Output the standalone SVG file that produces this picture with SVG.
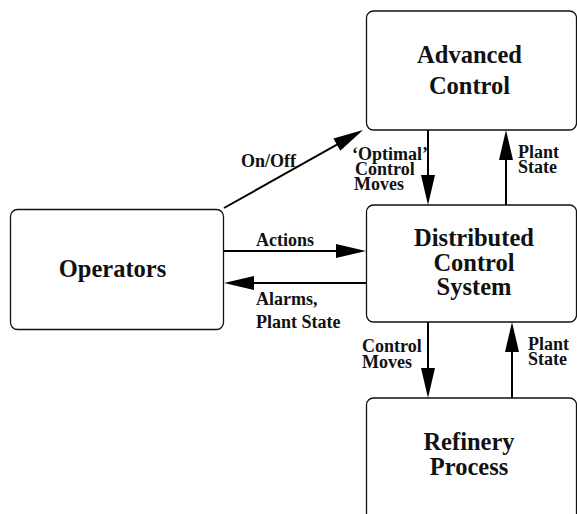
<svg xmlns="http://www.w3.org/2000/svg" width="577" height="514" viewBox="0 0 577 514">
<style>
.box{fill:#fff;stroke:#111;stroke-width:1.3}
.big{font-family:"Liberation Serif","Times New Roman",serif;font-weight:bold;font-size:24.5px;fill:#111;text-anchor:middle}
.sm{font-family:"Liberation Serif","Times New Roman",serif;font-weight:bold;font-size:18px;fill:#111}
.ln{stroke:#000;stroke-width:2;fill:none;marker-end:url(#ah)}
</style>
<defs>
<marker id="ah" markerUnits="userSpaceOnUse" markerWidth="30" markerHeight="14" refX="20" refY="7" orient="auto" overflow="visible">
<path d="M0,0 L30,7 L0,14 z" fill="#000"/>
</marker>
</defs>
<rect width="577" height="514" fill="#fff"/>
<g id="operators">
<rect class="box" x="10.5" y="209.5" width="213" height="120" rx="7"/>
<text class="big" x="112.5" y="277">Operators</text>
</g>
<g id="advanced-control">
<rect class="box" x="366.5" y="11" width="210" height="119" rx="7"/>
<text class="big" x="469.5" y="63">Advanced</text>
<text class="big" x="469.5" y="94">Control</text>
</g>
<g id="dcs">
<rect class="box" x="366.5" y="205" width="210" height="117" rx="7"/>
<text class="big" x="474" y="246">Distributed</text>
<text class="big" x="474" y="271">Control</text>
<text class="big" x="474" y="295">System</text>
</g>
<g id="refinery">
<rect class="box" x="366.5" y="398" width="210" height="130" rx="7"/>
<text class="big" x="469" y="450">Refinery</text>
<text class="big" x="469" y="475">Process</text>
</g>
<g id="connectors">
<line class="ln" x1="224" y1="208" x2="354.3" y2="134.9"/>
<line class="ln" x1="224" y1="251" x2="356" y2="251"/>
<line class="ln" x1="366" y1="283" x2="234" y2="283"/>
<line class="ln" x1="428" y1="130" x2="428" y2="195"/>
<line class="ln" x1="506" y1="205" x2="506" y2="140"/>
<line class="ln" x1="428" y1="322" x2="428" y2="388"/>
<line class="ln" x1="512" y1="398" x2="512" y2="332"/>
<text class="sm" x="241" y="167">On/Off</text>
<text class="sm" x="256" y="246">Actions</text>
<text class="sm" x="256" y="305">Alarms,</text>
<text class="sm" x="256" y="328">Plant State</text>
<text class="sm" x="352" y="160">‘Optimal’</text>
<text class="sm" x="355" y="175">Control</text>
<text class="sm" x="354" y="190">Moves</text>
<text class="sm" x="518" y="158">Plant</text>
<text class="sm" x="518" y="173">State</text>
<text class="sm" x="362" y="352">Control</text>
<text class="sm" x="362" y="368">Moves</text>
<text class="sm" x="528" y="350">Plant</text>
<text class="sm" x="528" y="365">State</text>
</g>
</svg>
